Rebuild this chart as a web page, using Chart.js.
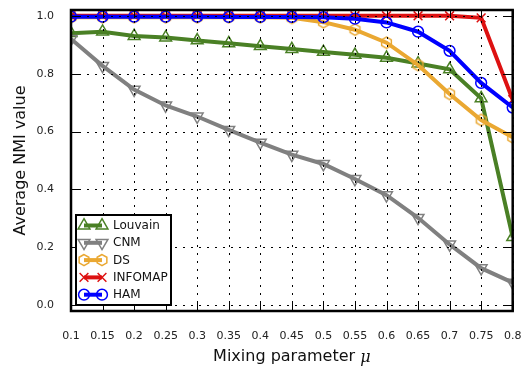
<!DOCTYPE html>
<html>
<head>
<meta charset="utf-8">
<script src="https://cdn.jsdelivr.net/npm/chart.js@4.4.1/dist/chart.umd.min.js"></script>
<style>
  html, body { margin: 0; padding: 0; background: #fff; }
  #wrap { width: 521px; height: 370px; }
</style>
</head>
<body>
<div id="wrap"><canvas id="chart" width="521" height="370"></canvas></div>
<script>
// Mixing parameter values (x axis)
const mu = [0.1, 0.15, 0.2, 0.25, 0.3, 0.35, 0.4, 0.45, 0.5, 0.55, 0.6, 0.65, 0.7, 0.75, 0.8];
const xTickLabels = ['0.1', '0.15', '0.2', '0.25', '0.3', '0.35', '0.4', '0.45', '0.5', '0.55', '0.6', '0.65', '0.7', '0.75', '0.8'];
const yTicks = [0.0, 0.2, 0.4, 0.6, 0.8, 1.0];

// Average NMI per method
const louvain = [0.94, 0.945, 0.93, 0.925, 0.915, 0.905, 0.895, 0.885, 0.875, 0.865, 0.855, 0.835, 0.815, 0.715, 0.235];
const cnm     = [0.92, 0.827, 0.745, 0.69, 0.652, 0.606, 0.562, 0.52, 0.488, 0.436, 0.38, 0.302, 0.21, 0.128, 0.078];
const ds      = [0.995, 0.995, 0.995, 0.995, 0.995, 0.995, 0.995, 0.993, 0.978, 0.952, 0.907, 0.83, 0.73, 0.64, 0.58];
const infomap = [1.0, 1.0, 1.0, 1.0, 1.0, 1.0, 1.0, 1.0, 1.0, 1.0, 1.0, 1.0, 1.0, 0.993, 0.71];
const ham     = [0.997, 0.997, 0.997, 0.997, 0.997, 0.996, 0.996, 0.996, 0.995, 0.99, 0.977, 0.945, 0.879, 0.768, 0.683];

const colors = {
  louvain: '#4a8025',
  cnm: '#808080',
  ds: '#eaa832',
  infomap: '#dd1111',
  ham: '#0000ff'
};

// marker radius per shape
const size = { tri: 6.8, hex: 5.6, x: 6.2, circle: 5.4 };

// hexagon marker for DS (no built-in hexagon point style)
function hexagonCanvas(color) {
  const c = document.createElement('canvas');
  c.width = 15; c.height = 15;
  const g = c.getContext('2d');
  hexPath(g, 7.5, 7.5, size.hex);
  g.lineWidth = 1.5;
  g.strokeStyle = color;
  g.stroke();
  return c;
}
function hexPath(g, x, y, r) {
  g.beginPath();
  for (let i = 0; i < 6; i++) {
    const a = Math.PI / 2 + i * Math.PI / 3;
    const px = x + r * Math.cos(a), py = y - r * Math.sin(a);
    if (i === 0) g.moveTo(px, py); else g.lineTo(px, py);
  }
  g.closePath();
}
const dsMarker = hexagonCanvas(colors.ds);

function toXY(arr) {
  return arr.map((v, i) => ({ x: mu[i], y: v }));
}

function series(label, data, color, style, rotation, radius, order) {
  return {
    label: label,
    data: toXY(data),
    borderColor: color,
    backgroundColor: 'rgba(0,0,0,0)',
    borderWidth: 4,
    pointStyle: style,
    pointRotation: rotation,
    pointRadius: radius,
    pointBorderColor: color,
    pointBackgroundColor: 'rgba(0,0,0,0)',
    pointBorderWidth: 1.5,
    tension: 0,
    clip: 0,
    order: order
  };
}

// Draw a small marker for the legend
function legendMarker(g, kind, x, y, color) {
  g.save();
  g.strokeStyle = color;
  g.lineWidth = 1.5;
  g.beginPath();
  if (kind === 'up' || kind === 'down') {
    const r = size.tri;
    const s = kind === 'up' ? 1 : -1;
    g.moveTo(x, y - s * r);
    g.lineTo(x + r * 0.87, y + s * r * 0.5);
    g.lineTo(x - r * 0.87, y + s * r * 0.5);
    g.closePath();
  } else if (kind === 'hex') {
    hexPath(g, x, y, size.hex);
  } else if (kind === 'x') {
    const d = size.x * 0.707;
    g.moveTo(x - d, y - d); g.lineTo(x + d, y + d);
    g.moveTo(x + d, y - d); g.lineTo(x - d, y + d);
  } else {
    g.arc(x, y, size.circle, 0, Math.PI * 2);
  }
  g.stroke();
  g.restore();
}

const legendItems = [
  { label: 'Louvain', color: colors.louvain, kind: 'up' },
  { label: 'CNM', color: colors.cnm, kind: 'down' },
  { label: 'DS', color: colors.ds, kind: 'hex' },
  { label: 'INFOMAP', color: colors.infomap, kind: 'x' },
  { label: 'HAM', color: colors.ham, kind: 'circle' }
];

// Grid on top of lines, frame, inward ticks, axis titles and legend
const framePlugin = {
  id: 'frame',
  afterDatasetsDraw(chart) {
    const g = chart.ctx;
    const a = chart.chartArea;
    const xs = chart.scales.x, ys = chart.scales.y;
    g.save();

    // dotted grid, drawn above the data
    g.strokeStyle = '#000';
    g.lineWidth = 1;
    g.setLineDash([2, 6]);
    g.beginPath();
    mu.forEach(v => {
      const px = Math.round(xs.getPixelForValue(v)) + 0.5;
      g.moveTo(px, a.bottom); g.lineTo(px, a.top);
    });
    yTicks.forEach(v => {
      const py = Math.round(ys.getPixelForValue(v)) + 0.5;
      g.moveTo(a.left, py); g.lineTo(a.right, py);
    });
    g.stroke();
    g.setLineDash([]);

    // inward tick marks on all four sides
    g.beginPath();
    mu.forEach(v => {
      const px = Math.round(xs.getPixelForValue(v)) + 0.5;
      g.moveTo(px, a.bottom); g.lineTo(px, a.bottom - 8);
      g.moveTo(px, a.top); g.lineTo(px, a.top + 8);
    });
    yTicks.forEach(v => {
      const py = Math.round(ys.getPixelForValue(v)) + 0.5;
      g.moveTo(a.left, py); g.lineTo(a.left + 8, py);
      g.moveTo(a.right, py); g.lineTo(a.right - 8, py);
    });
    g.stroke();

    // thick frame
    g.lineWidth = 2.5;
    g.strokeRect(a.left, a.top, a.right - a.left, a.bottom - a.top);

    // axis titles
    g.fillStyle = '#111';
    g.textBaseline = 'middle';
    const t1 = 'Mixing parameter ';
    g.font = '16px "DejaVu Sans"';
    const w1 = g.measureText(t1).width;
    g.font = 'italic 16px "DejaVu Serif"';
    const w2 = g.measureText('μ').width;
    const sx = (a.left + a.right) / 2 - (w1 + w2) / 2;
    g.textAlign = 'left';
    g.font = '16px "DejaVu Sans"';
    g.fillText(t1, sx, 357);
    g.font = 'italic 16px "DejaVu Serif"';
    g.fillText('μ', sx + w1, 358);

    g.save();
    g.translate(21, (a.top + a.bottom) / 2);
    g.rotate(-Math.PI / 2);
    g.textAlign = 'center';
    g.font = '16px "DejaVu Sans"';
    g.fillText('Average NMI value', 0, 0);
    g.restore();

    // legend box
    const lx = 76, ly = 215, lw = 95, lh = 90;
    g.fillStyle = '#fff';
    g.fillRect(lx, ly, lw, lh);
    g.lineWidth = 2;
    g.strokeStyle = '#000';
    g.strokeRect(lx, ly, lw, lh);
    g.font = '12px "DejaVu Sans"';
    g.textAlign = 'left';
    g.textBaseline = 'middle';
    legendItems.forEach((it, i) => {
      const y = ly + 10.5 + i * 17.3;
      g.strokeStyle = it.color;
      g.lineWidth = 4;
      g.beginPath();
      g.moveTo(lx + 8, y); g.lineTo(lx + 26, y);
      g.stroke();
      legendMarker(g, it.kind, lx + 8, y, it.color);
      legendMarker(g, it.kind, lx + 26, y, it.color);
      g.fillStyle = '#111';
      g.fillText(it.label, lx + 37, y + 0.5);
    });

    g.restore();
  }
};

new Chart(document.getElementById('chart'), {
  type: 'line',
  data: {
    datasets: [
      series('Louvain', louvain, colors.louvain, 'triangle', 0, size.tri, 5),
      series('CNM', cnm, colors.cnm, 'triangle', 180, size.tri, 4),
      series('DS', ds, colors.ds, dsMarker, 0, size.hex, 3),
      series('INFOMAP', infomap, colors.infomap, 'crossRot', 0, size.x, 2),
      series('HAM', ham, colors.ham, 'circle', 0, size.circle, 1)
    ]
  },
  options: {
    responsive: false,
    animation: false,
    events: [],
    layout: { padding: { left: 0, right: 8, top: 10, bottom: 0 } },
    plugins: {
      legend: { display: false },
      tooltip: { enabled: false }
    },
    scales: {
      x: {
        type: 'linear',
        min: 0.1,
        max: 0.8,
        afterBuildTicks: s => { s.ticks = mu.map(v => ({ value: v })); },
        afterFit: s => { s.height = 59; s.paddingLeft = 0; s.paddingRight = 0; },
        grid: { display: false },
        border: { display: false },
        ticks: {
          padding: 11,
          color: '#222',
          font: { family: 'DejaVu Sans', size: 11 },
          maxRotation: 0,
          autoSkip: false,
          callback: (v, i) => xTickLabels[i]
        }
      },
      y: {
        min: -0.02,
        max: 1.02,
        afterBuildTicks: s => { s.ticks = yTicks.map(v => ({ value: v })); },
        afterFit: s => { s.width = 71; s.paddingTop = 0; s.paddingBottom = 0; },
        grid: { display: false },
        border: { display: false },
        ticks: {
          padding: 9,
          color: '#222',
          font: { family: 'DejaVu Sans', size: 11 },
          callback: v => v.toFixed(1)
        }
      }
    }
  },
  plugins: [framePlugin]
});
</script>
</body>
</html>
